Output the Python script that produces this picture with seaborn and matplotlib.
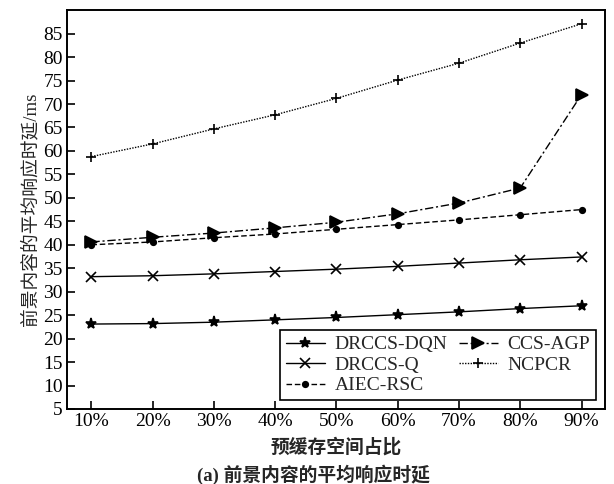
import matplotlib
matplotlib.use("Agg")
import matplotlib.pyplot as plt
import seaborn as sns
import pandas as pd

# Pre-cache ratio categories
ratios = ["10%", "20%", "30%", "40%", "50%", "60%", "70%", "80%", "90%"]

# Average response latency of foreground content (ms)
drccs_dqn = [23.1, 23.2, 23.5, 24.0, 24.5, 25.1, 25.7, 26.4, 27.0]
drccs_q = [33.2, 33.4, 33.8, 34.3, 34.8, 35.4, 36.1, 36.8, 37.4]
aiec_rsc = [40.0, 40.6, 41.5, 42.3, 43.3, 44.3, 45.3, 46.4, 47.5]
ccs_agp = [40.6, 41.6, 42.5, 43.6, 44.8, 46.6, 48.9, 52.1, 72.0]
ncpcr = [58.8, 61.5, 64.7, 67.7, 71.2, 75.1, 78.7, 83.0, 87.1]

series_names = ["DRCCS-DQN", "DRCCS-Q", "AIEC-RSC", "CCS-AGP", "NCPCR"]
series_values = [drccs_dqn, drccs_q, aiec_rsc, ccs_agp, ncpcr]

y_ticks = [5, 10, 15, 20, 25, 30, 35, 40, 45, 50, 55, 60, 65, 70, 75, 80, 85]

rows = []
for name, vals in zip(series_names, series_values):
    for i, v in enumerate(vals):
        rows.append({"pos": i, "ratio": ratios[i], "series": name, "latency": v})
df = pd.DataFrame(rows)

sns.set_theme(style="white")
plt.rcParams["font.family"] = ["Liberation Serif", "Noto Sans CJK SC"]

fig = plt.figure(figsize=(6.14, 4.84), dpi=100)
ax = fig.add_axes([0.109, 0.155, 0.876, 0.824])

markers = {"DRCCS-DQN": "*", "DRCCS-Q": "x", "AIEC-RSC": "o",
           "CCS-AGP": ">", "NCPCR": "+"}
dashes = {"DRCCS-DQN": "", "DRCCS-Q": "", "AIEC-RSC": (4, 2),
          "CCS-AGP": (6, 2, 1.5, 2), "NCPCR": (1, 1)}
sizes = {"DRCCS-DQN": 8, "DRCCS-Q": 7.5, "AIEC-RSC": 4, "CCS-AGP": 8, "NCPCR": 7.5}

for name in series_names:
    sub = df[df["series"] == name]
    sns.lineplot(data=sub, x="pos", y="latency", ax=ax, color="black",
                 marker=markers[name], markersize=sizes[name],
                 markeredgewidth=1.2, markeredgecolor="black",
                 markerfacecolor="black", linewidth=1.0, label=name)
    line = ax.get_lines()[-1]
    if dashes[name]:
        line.set_dashes(dashes[name])

ax.set_xlim(-0.4, 8.38)
ax.set_ylim(5, 90)
ax.set_xticks(range(len(ratios)))
ax.set_xticklabels(ratios)
ax.set_yticks(y_ticks)

for s in ax.spines.values():
    s.set_color("black")
    s.set_linewidth(1.4)
ax.tick_params(axis="both", which="major", direction="in", length=5.5,
               width=1.2, colors="black", labelsize=14, pad=3)
ax.tick_params(top=False, right=False, bottom=True, left=True)

ax.set_xlabel("预缓存空间占比", fontsize=13.5, fontweight="bold",
              family=["Noto Sans CJK SC"], labelpad=5)
ax.set_ylabel("前景内容的平均响应时延/ms", fontsize=13.5,
              family=["Liberation Serif", "Noto Sans CJK SC"], labelpad=3)

handles, labels = ax.get_legend_handles_labels()
leg = ax.legend(handles, labels,
                ncol=2, loc="lower right", fontsize=14, frameon=True,
                fancybox=False, edgecolor="black", framealpha=1,
                handlelength=2.0, handletextpad=0.5, columnspacing=0.6,
                labelspacing=0.15, borderpad=0.3, borderaxespad=0.45)
leg.get_frame().set_linewidth(1.2)

fig.text(0.511, 0.019, "(a) 前景内容的平均响应时延", ha="center", va="center",
         fontsize=13.5, fontweight="bold",
         family=["Liberation Serif", "Noto Sans CJK SC"])

fig.savefig("out.png", dpi=100)
